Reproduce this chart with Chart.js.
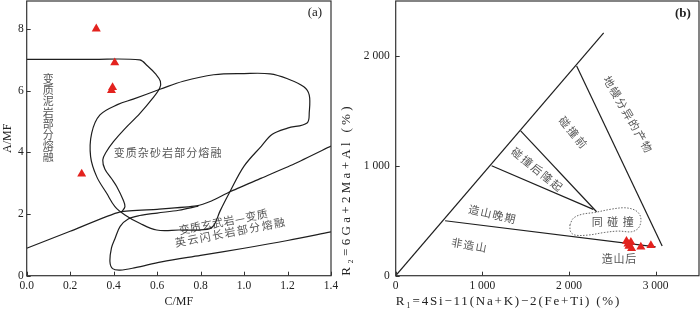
<!DOCTYPE html>
<html><head><meta charset="utf-8">
<script src="https://cdn.jsdelivr.net/npm/chart.js@4/dist/chart.umd.min.js"></script>
<style>
html,body{margin:0;padding:0;background:#fff;width:700px;height:309px;overflow:hidden}
canvas{position:absolute;top:0}
#ca{left:0}
#cb{left:338px}
</style></head><body>
<canvas id="ca" width="338" height="309"></canvas>
<canvas id="cb" width="362" height="309"></canvas>
<script>
// ---------- Panel (a) data ----------
const aCMF = [0.32, 0.405, 0.395, 0.39, 0.253];
const aAMF = [8.0, 6.9, 6.1, 6.0, 3.3];
const aXTicks = [0, 0.2, 0.4, 0.6, 0.8, 1.0, 1.2, 1.4];
const aXTickLabels = ['0.0','0.2','0.4','0.6','0.8','1.0','1.2','1.4'];
const aYTicks = [0, 2, 4, 6, 8];
const aYTickLabels = ['0','2','4','6','8'];
// field boundaries (C/MF, A/MF)
const aPelite = [[0,7.01],[0.30,7.01],[0.52,6.99],[0.555,6.8],[0.595,6.52],[0.615,6.3],[0.612,6.08],[0.58,5.75],[0.52,5.25],[0.45,4.75],[0.40,4.35],[0.365,4.0],[0.35,3.75],[0.36,3.45],[0.39,3.15],[0.414,2.89],[0.444,2.45],[0.452,2.24],[0.437,2.07]];
const aGreywacke = [[0.613,6.04],[0.72,6.3],[0.86,6.51],[1.0,6.55],[1.12,6.54],[1.2,6.38],[1.275,6.12],[1.3,5.85],[1.3,5.3],[1.29,4.95],[1.2,4.78],[1.13,4.58],[1.08,4.2],[1.0,3.55],[0.935,2.72],[0.89,2.1],[0.86,1.62],[0.83,1.5],[0.7,1.48],[0.598,1.48],[0.52,1.7],[0.452,1.97],[0.406,2.24],[0.368,2.67],[0.322,3.21],[0.294,3.86],[0.299,4.62],[0.337,5.21],[0.42,5.55],[0.49,5.72],[0.613,6.04]];
const aBasalt = [[0.79,2.25],[0.7,2.12],[0.6,2.03],[0.52,1.95],[0.467,1.84],[0.43,1.6],[0.406,1.2],[0.39,0.9],[0.383,0.45],[0.395,0.23],[0.43,0.18],[0.5,0.26],[0.62,0.45],[0.8,0.66],[1.0,0.89],[1.2,1.14],[1.4,1.42]];
const aDivide = [[0,0.89],[0.2,1.44],[0.43,2.07],[0.6,2.15],[0.78,2.26],[0.85,2.42],[0.935,2.72],[1.08,3.16],[1.23,3.62],[1.4,4.2]];

// ---------- Panel (b) data ----------
const bR1 = [2663, 2714, 2691, 2722, 2680, 2829, 2945];
const bR2 = [315, 305, 270, 248, 290, 262, 275];
const bXTicks = [0, 1000, 2000, 3000];
const bXTickLabels = ['0','1 000','2 000','3 000'];
const bYTicks = [0, 1000, 2000];
const bYTickLabels = ['0','1 000','2 000'];
const bDiagonal = [[0,0],[2400,2210]];
const bLine1 = [[570,500],[3000,262]];
const bLine2 = [[1107,1000],[2280,604]];
const bLine3 = [[1442,1318],[2318,582]];
const bLine4 = [[2088,1909],[3075,270]];
const bSyn = [[2010,461],[2049,522],[2145,558],[2299,576],[2491,606],[2645,618],[2760,597],[2818,552],[2829,491],[2798,431],[2722,400],[2568,406],[2414,394],[2222,370],[2068,370],[2018,400],[2010,461]];

// ---------- text annotations (data coords) ----------
const aLabels = [
  {t:'变质杂砂岩部分熔融', x:0.648, y:3.99, rot:0, adv:12.1},
  {t:'变质玄武岩—变质', x:0.904, y:1.75, rot:-11, adv:11.3},
  {t:'英云闪长岩部分熔融', x:0.935, y:1.41, rot:-11, adv:12.6},
];
const aVertical = {t:'变质泥岩部分熔融', x:0.099, y:6.37, adv:11.1};
const bLabels = [
  {t:'地幔分异的产物', x:2679, y:1470, rot:60, adv:12.5},
  {t:'碰撞前', x:2045, y:1306, rot:51, adv:13},
  {t:'碰撞后隆起', x:1630, y:970, rot:39, adv:12.7},
  {t:'造山晚期', x:1111, y:561, rot:13, adv:12.3},
  {t:'非造山', x:845, y:279, rot:10, adv:12.3},
  {t:'同碰撞', x:2506, y:488, rot:0, adv:15.5},
  {t:'造山后', x:2576, y:156, rot:0, adv:11.7},
];

const SERIF = "'Liberation Serif','Noto Sans CJK SC',serif";
const CJK = "'Noto Sans CJK SC',sans-serif";
const RED = '#e3221e';
const LINE = '#1e1e1e';

const toXY = arr => arr.map(p => ({x:p[0], y:p[1]}));
const zip = (xs, ys) => xs.map((v,i) => ({x:v, y:ys[i]}));

function lineDS(arr, extra) {
  return Object.assign({type:'line', data: toXY(arr), borderColor: LINE, borderWidth: 1.2,
    pointRadius: 0, fill: false, tension: 0.35, order: 2}, extra || {});
}

function drawSpaced(ctx, text, cx, cy, rot, adv) {
  const chars = [...text];
  const n = chars.length;
  ctx.save();
  ctx.translate(cx, cy);
  ctx.rotate(rot * Math.PI / 180);
  ctx.textAlign = 'center'; ctx.textBaseline = 'middle';
  chars.forEach((c, i) => ctx.fillText(c, (i - (n - 1) / 2) * adv, 0));
  ctx.restore();
}

function decor(labels, vertical, tag) {
  return {
    id: 'decor',
    beforeDatasetsDraw(chart) {
      const {ctx, scales:{x, y}} = chart;
      ctx.save();
      ctx.fillStyle = '#555';
      ctx.font = '11px ' + CJK;
      labels.forEach(l => drawSpaced(ctx, l.t, x.getPixelForValue(l.x), y.getPixelForValue(l.y), l.rot, l.adv));
      if (vertical) {
        const cx = x.getPixelForValue(vertical.x), cy = y.getPixelForValue(vertical.y);
        ctx.textAlign = 'center'; ctx.textBaseline = 'middle';
        [...vertical.t].forEach((c, i) => ctx.fillText(c, cx, cy + i * vertical.adv));
      }
      ctx.fillStyle = '#222';
      ctx.font = tag.font;
      ctx.textAlign = 'center'; ctx.textBaseline = 'middle';
      ctx.fillText(tag.t, x.getPixelForValue(tag.x), y.getPixelForValue(tag.y));
      ctx.restore();
    },
    afterDraw(chart) {
      const {ctx, chartArea: ca, scales:{x, y}} = chart;
      ctx.save();
      ctx.strokeStyle = '#333'; ctx.lineWidth = 1.2;
      ctx.strokeRect(ca.left, ca.top, ca.right - ca.left, ca.bottom - ca.top);
      ctx.beginPath();
      x.ticks.forEach(t => { const p = Math.round(x.getPixelForValue(t.value)) + 0.5; ctx.moveTo(p, ca.bottom); ctx.lineTo(p, ca.bottom - 4); });
      y.ticks.forEach(t => { const p = Math.round(y.getPixelForValue(t.value)) + 0.5; ctx.moveTo(ca.left, p); ctx.lineTo(ca.left + 4, p); });
      ctx.lineWidth = 1;
      ctx.stroke();
      ctx.restore();
    }
  };
}

function axisOpts(o) {
  return {
    type: 'linear', min: o.min, max: o.max,
    grid: {display: false, drawTicks: false},
    border: {display: false},
    afterBuildTicks: s => { s.ticks = o.ticks.map(v => ({value: v})); },
    afterFit: s => {
      if (o.w !== undefined) s.width = o.w;
      if (o.h !== undefined) s.height = o.h;
      s.paddingTop = 0; s.paddingBottom = 0; s.paddingLeft = 0; s.paddingRight = 0;
      if (o.spacing && !s._spaced) {
        const orig = s.drawTitle.bind(s);
        s.drawTitle = function () {
          this.ctx.save();
          this.ctx.letterSpacing = o.spacing;
          orig();
          this.ctx.restore();
        };
        s._spaced = true;
      }
    },
    ticks: {
      padding: o.pad, color: '#222', font: {family: SERIF, size: 11.5}, maxRotation: 0, autoSkip: false,
      callback: (v) => { const i = o.ticks.indexOf(v); return i >= 0 ? o.labels[i] : ''; }
    },
    title: {display: true, text: o.title, color: '#222', align: o.align || 'center',
      font: {family: SERIF, size: o.tsize || 12}, padding: o.tpad}
  };
}

const common = {
  responsive: false, animation: false, devicePixelRatio: 1,
  plugins: {legend: {display: false}, tooltip: {enabled: false}},
};

new Chart(document.getElementById('ca'), {
  type: 'scatter',
  data: {datasets: [
    {type:'scatter', data: zip(aCMF, aAMF), pointStyle: 'triangle', pointRadius: 5.2, backgroundColor: RED, borderColor: RED, borderWidth: 0, order: 0},
    lineDS(aPelite), lineDS(aGreywacke), lineDS(aBasalt), lineDS(aDivide, {tension: 0.2}),
  ]},
  options: Object.assign({}, common, {
    layout: {autoPadding: false, padding: {top: 1, right: 7, left: 0, bottom: 0}},
    scales: {
      x: axisOpts({min: 0, max: 1.4, ticks: aXTicks, labels: aXTickLabels, pad: 3, title: 'C/MF', tpad: {top: 0, bottom: 0}, h: 33.3}),
      y: axisOpts({min: 0, max: 8.9, ticks: aYTicks, labels: aYTickLabels, pad: 3, title: 'A/MF', tpad: {top: 1, bottom: 0}, w: 26.7}),
    }
  }),
  plugins: [decor(aLabels, aVertical, {t:'(a)', x:1.326, y:8.52, font:'13px ' + SERIF})]
});

new Chart(document.getElementById('cb'), {
  type: 'scatter',
  data: {datasets: [
    {type:'scatter', data: zip(bR1, bR2), pointStyle: 'triangle', pointRadius: 5.2, backgroundColor: RED, borderColor: RED, borderWidth: 0, order: 0},
    lineDS(bDiagonal, {tension: 0}), lineDS(bLine1, {tension: 0}), lineDS(bLine2, {tension: 0}),
    lineDS(bLine3, {tension: 0}), lineDS(bLine4, {tension: 0}),
    lineDS(bSyn, {borderColor: '#666', borderWidth: 1, borderDash: [1.5, 1.5], tension: 0.35}),
  ]},
  options: Object.assign({}, common, {
    layout: {autoPadding: false, padding: {top: 1, right: 1, left: 0, bottom: 0}},
    scales: {
      x: axisOpts({min: 0, max: 3500, ticks: bXTicks, labels: bXTickLabels, pad: 3, title: 'R₁=4Si−11(Na+K)−2(Fe+Ti) (%)', align: 'start', tsize: 13, spacing: '1.8px', tpad: {top: 0, bottom: 0}, h: 33.3}),
      y: axisOpts({min: 0, max: 2500, ticks: bYTicks, labels: bYTickLabels, pad: 6, title: 'R₂=6Ga+2Ma+Al (%)', align: 'start', tsize: 13, spacing: '3.3px', tpad: {top: 1, bottom: 0}, w: 57.7}),
    }
  }),
  plugins: [decor(bLabels, null, {t:'(b)', x:3314, y:2388, font:'bold 13px ' + SERIF})]
});
</script>
</body></html>
